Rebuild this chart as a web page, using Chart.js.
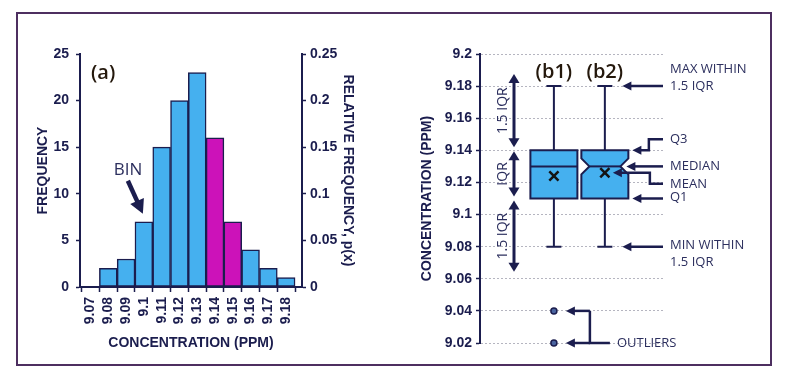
<!DOCTYPE html>
<html>
<head>
<meta charset="utf-8">
<script src="https://cdn.jsdelivr.net/npm/chart.js@4.4.0/dist/chart.umd.min.js"></script>
<style>
  html, body { margin: 0; padding: 0; background: #fff; }
  #page { position: relative; width: 789px; height: 374px; overflow: hidden; background: #fff; }
  #frame { position: absolute; left: 16px; top: 12px; width: 756px; height: 354px; box-sizing: border-box; border: 2px solid #4d2f60; }
  #hist { position: absolute; left: 0; top: 0; }
  #box { position: absolute; left: 395px; top: 0; }
</style>
</head>
<body>
<div id="page">
  <div id="frame"></div>
  <canvas id="hist" width="395" height="374"></canvas>
  <canvas id="box" width="394" height="374"></canvas>
</div>
<script>
// ---- histogram data (a) ----
const binCentres = [9.07, 9.08, 9.09, 9.10, 9.11, 9.12, 9.13, 9.14, 9.15, 9.16, 9.17, 9.18];
const binLabels = ['9.07', '9.08', '9.09', '9.1', '9.11', '9.12', '9.13', '9.14', '9.15', '9.16', '9.17', '9.18'];
const frequency = [0, 2, 3, 7, 15, 20, 23, 16, 7, 4, 2, 1];
const highlightedBins = ['9.14', '9.15'];
const freqTicks = [0, 5, 10, 15, 20, 25];
const relFreqTicks = [0, 0.05, 0.1, 0.15, 0.2, 0.25];

// ---- box plot data (b1, b2) ----
const boxNames = ['(b1)', '(b2)'];
const boxMin = [9.08, 9.08];
const boxQ1 = [9.11, 9.11];
const boxMedian = [9.13, 9.13];
const boxQ3 = [9.14, 9.14];
const boxMax = [9.18, 9.18];
const boxMean = [9.124, 9.126];
const notchLow = [null, 9.125];
const notchHigh = [null, 9.135];
const outliers = [[9.04, 9.02], []];
const concTicks = [9.02, 9.04, 9.06, 9.08, 9.1, 9.12, 9.14, 9.16, 9.18, 9.2];

const NAVY = '#1b1d4e';
const NOTE = '#2c2f5e';
const BLUE = '#45b0ef';
const MAGENTA = '#cc12b9';
const LABEL_DARK = '#24180c';

Chart.defaults.font.family = 'Arial, "Liberation Sans", sans-serif';
Chart.defaults.color = NAVY;

const boldFont = { size: 14, weight: 'bold' };
const fmt = v => String(parseFloat(Number(v).toFixed(2)));

function arrowHead(ctx, x1, y1, x2, y2, len, half) {
    const a = Math.atan2(y2 - y1, x2 - x1);
    ctx.beginPath();
    ctx.moveTo(x2, y2);
    ctx.lineTo(x2 - len * Math.cos(a) + half * Math.sin(a), y2 - len * Math.sin(a) - half * Math.cos(a));
    ctx.lineTo(x2 - len * Math.cos(a) - half * Math.sin(a), y2 - len * Math.sin(a) + half * Math.cos(a));
    ctx.closePath();
    ctx.fill();
}

// polyline that ends in an arrow head at its last point
function arrowPath(ctx, pts, lw, len, half) {
    ctx.save();
    ctx.strokeStyle = NAVY;
    ctx.fillStyle = NAVY;
    ctx.lineWidth = lw;
    ctx.lineJoin = 'miter';
    const n = pts.length;
    const [px, py] = pts[n - 2];
    const [tx, ty] = pts[n - 1];
    const a = Math.atan2(ty - py, tx - px);
    ctx.beginPath();
    ctx.moveTo(pts[0][0], pts[0][1]);
    for (let i = 1; i < n - 1; i++) ctx.lineTo(pts[i][0], pts[i][1]);
    ctx.lineTo(tx - (len - 1) * Math.cos(a), ty - (len - 1) * Math.sin(a));
    ctx.stroke();
    arrowHead(ctx, px, py, tx, ty, len, half);
    ctx.restore();
}

// ---- (a) histogram ----
const binEdges = binCentres.map(c => c - 0.005).concat([binCentres[binCentres.length - 1] + 0.005]);

const histNotes = {
    id: 'histNotes',
    afterDraw(chart) {
        const { ctx, scales: { x, y } } = chart;
        ctx.save();
        ctx.fillStyle = LABEL_DARK;
        ctx.font = '600 20px "Open Sans", sans-serif';
        ctx.textBaseline = 'middle';
        ctx.fillText('(a)', 91, 73);

        ctx.fillStyle = NOTE;
        ctx.font = '17px "Open Sans", sans-serif';
        ctx.textAlign = 'center';
        ctx.fillText('BIN', 128, 170);

        // arrow pointing at the 9.1 bin
        const i = binLabels.indexOf('9.1');
        const tx = x.getPixelForValue(binCentres[i]) - 1;
        const ty = y.getPixelForValue(frequency[i]) - 8;
        arrowPath(ctx, [[tx - 15, ty - 33], [tx, ty]], 4.5, 14, 7.5);
        ctx.restore();
    }
};

new Chart(document.getElementById('hist'), {
    type: 'bar',
    data: {
        datasets: [{
            data: binCentres.map((c, i) => ({ x: c, y: frequency[i] })),
            backgroundColor: binLabels.map(l => highlightedBins.includes(l) ? MAGENTA : BLUE),
            borderColor: NAVY,
            borderWidth: 1.5,
            borderSkipped: false,
            barPercentage: 1,
            categoryPercentage: 1,
            yAxisID: 'y'
        }]
    },
    options: {
        responsive: false,
        animation: false,
        events: [],
        layout: { padding: { top: 54, left: 0, right: 0, bottom: 0 } },
        plugins: { legend: { display: false }, tooltip: { enabled: false } },
        scales: {
            x: {
                type: 'linear', min: 9.0641, max: 9.1889, offset: false,
                afterBuildTicks: s => { s.ticks = binEdges.map(v => ({ value: v })); },
                afterFit: s => { s.height = 87; },
                grid: { drawOnChartArea: false, offset: false, tickLength: 5, tickColor: NAVY, tickWidth: 1.5 },
                border: { color: NAVY, width: 2 },
                ticks: {
                    autoSkip: false, minRotation: 90, maxRotation: 90, padding: 5, labelOffset: 8.9,
                    color: NAVY, font: boldFont,
                    callback: (v, i) => binLabels[i] || ''
                },
                title: { display: true, text: 'CONCENTRATION (PPM)', color: NAVY, font: boldFont, padding: { top: 0, bottom: 22 } }
            },
            y: {
                position: 'left', min: 0, max: 25,
                afterBuildTicks: s => { s.ticks = freqTicks.map(v => ({ value: v })); },
                afterFit: s => { s.width = 80; },
                grid: { drawOnChartArea: false, tickLength: 4, tickColor: NAVY, tickWidth: 1.5 },
                border: { color: NAVY, width: 2 },
                ticks: { padding: 7, color: NAVY, font: boldFont },
                title: { display: true, text: 'FREQUENCY', color: NAVY, font: boldFont, padding: { top: 35, bottom: 0 } }
            },
            y1: {
                position: 'right', min: 0, max: 0.25,
                afterBuildTicks: s => { s.ticks = relFreqTicks.map(v => ({ value: v })); },
                afterFit: s => { s.width = 93; },
                grid: { drawOnChartArea: false, tickLength: 4, tickColor: NAVY, tickWidth: 1.5 },
                border: { color: NAVY, width: 2 },
                ticks: { padding: 4, color: NAVY, font: boldFont, callback: v => fmt(v) },
                title: { display: true, text: 'RELATIVE FREQUENCY, p(x)', color: NAVY, font: boldFont, padding: { top: 39, bottom: 0 } }
            }
        }
    },
    plugins: [histNotes]
});

// ---- (b) box plots ----
const BOX_HALF = 23.5, CAP_HALF = 7.5, NOTCH_DEPTH = 8;

const boxDraw = {
    id: 'boxDraw',
    beforeDatasetsDraw(chart) {
        const { ctx, scales: { x, y } } = chart;
        ctx.save();
        ctx.strokeStyle = NAVY;
        ctx.lineWidth = 2;
        boxNames.forEach((name, i) => {
            const xc = x.getPixelForValue(i + 1);
            const yMax = y.getPixelForValue(boxMax[i]), yMin = y.getPixelForValue(boxMin[i]);
            const yQ1 = y.getPixelForValue(boxQ1[i]), yQ3 = y.getPixelForValue(boxQ3[i]);
            const yMed = y.getPixelForValue(boxMedian[i]);
            // whiskers and caps
            ctx.beginPath();
            ctx.moveTo(xc, yMax); ctx.lineTo(xc, yQ3);
            ctx.moveTo(xc, yQ1); ctx.lineTo(xc, yMin);
            ctx.moveTo(xc - CAP_HALF, yMax); ctx.lineTo(xc + CAP_HALF, yMax);
            ctx.moveTo(xc - CAP_HALF, yMin); ctx.lineTo(xc + CAP_HALF, yMin);
            ctx.stroke();
            // box, notched when notch limits are given
            const l = xc - BOX_HALF, r = xc + BOX_HALF;
            const notched = notchLow[i] != null;
            ctx.beginPath();
            ctx.moveTo(l, yQ1);
            if (notched) {
                const yNL = y.getPixelForValue(notchLow[i]), yNH = y.getPixelForValue(notchHigh[i]);
                ctx.lineTo(l, yNL); ctx.lineTo(l + NOTCH_DEPTH, yMed); ctx.lineTo(l, yNH);
                ctx.lineTo(l, yQ3); ctx.lineTo(r, yQ3);
                ctx.lineTo(r, yNH); ctx.lineTo(r - NOTCH_DEPTH, yMed); ctx.lineTo(r, yNL);
            } else {
                ctx.lineTo(l, yQ3); ctx.lineTo(r, yQ3);
            }
            ctx.lineTo(r, yQ1);
            ctx.closePath();
            ctx.fillStyle = BLUE;
            ctx.fill();
            ctx.stroke();
            const inset = notched ? NOTCH_DEPTH : 0;
            ctx.beginPath();
            ctx.moveTo(l + inset, yMed); ctx.lineTo(r - inset, yMed);
            ctx.stroke();
        });
        ctx.restore();
    },
    afterDraw(chart) {
        const { ctx, chartArea: ca, scales: { x, y } } = chart;
        const yp = v => y.getPixelForValue(v);
        ctx.save();

        // box names
        ctx.fillStyle = LABEL_DARK;
        ctx.font = '600 20px "Open Sans", sans-serif';
        ctx.textAlign = 'center';
        ctx.textBaseline = 'middle';
        boxNames.forEach((n, i) => ctx.fillText(n, x.getPixelForValue(i + 1), 72));

        // IQR brackets on the left, from box (b1)
        const iqr = boxQ3[0] - boxQ1[0];
        const ax = ca.left + 34;
        const spans = [
            [yp(boxQ3[0] + 1.5 * iqr) - 4, yp(boxQ3[0]) - 3, '1.5 IQR'],
            [yp(boxQ3[0]) + 1, yp(boxQ1[0]) - 2, 'IQR'],
            [yp(boxQ1[0]) + 2, yp(boxQ1[0] - 1.5 * iqr) + 1, '1.5 IQR']
        ];
        ctx.fillStyle = NAVY;
        ctx.strokeStyle = NAVY;
        ctx.lineWidth = 3;
        spans.forEach(([top, bot, txt]) => {
            ctx.beginPath();
            ctx.moveTo(ax, top + 7); ctx.lineTo(ax, bot - 7);
            ctx.stroke();
            arrowHead(ctx, ax, bot, ax, top, 9, 5.5);
            arrowHead(ctx, ax, top, ax, bot, 9, 5.5);
            ctx.save();
            ctx.translate(ax - 11, (top + bot) / 2);
            ctx.rotate(-Math.PI / 2);
            ctx.fillStyle = NOTE;
            ctx.font = '14px "Open Sans", sans-serif';
            ctx.textAlign = 'center';
            ctx.textBaseline = 'middle';
            ctx.fillText(txt, 0, 0);
            ctx.restore();
        });

        // notes on the right, pointing at box (b2)
        const b = 1;
        const xc = x.getPixelForValue(b + 1);
        const tail = ca.right - 2;
        const tx = ca.right + 5;
        const elbow = xc + 44;
        const write = (txt, yy) => {
            ctx.fillStyle = NOTE;
            ctx.font = '13px "Open Sans", sans-serif';
            ctx.textAlign = 'left';
            ctx.textBaseline = 'middle';
            ctx.fillText(txt, tx, yy);
        };
        const yMax = yp(boxMax[b]), yMin = yp(boxMin[b]);
        arrowPath(ctx, [[tail, yMax], [xc + CAP_HALF + 10, yMax]], 2.5, 9, 4.5);
        write('MAX WITHIN', yMax - 17);
        write('1.5 IQR', yMax);

        const yQ3 = yp(boxQ3[b]);
        arrowPath(ctx, [[tail, yQ3 - 11], [elbow, yQ3 - 11], [elbow, yQ3], [xc + BOX_HALF + 4, yQ3]], 2.5, 9, 4.5);
        write('Q3', yQ3 - 11);

        const yMed = yp(boxMedian[b]);
        arrowPath(ctx, [[tail, yMed], [xc + BOX_HALF - NOTCH_DEPTH + 6, yMed]], 2.5, 9, 4.5);
        write('MEDIAN', yMed);

        const yMean = yp(boxMean[b]);
        arrowPath(ctx, [[tail, yMean + 11], [elbow + 1, yMean + 11], [elbow + 1, yMean], [xc + 8, yMean]], 2.5, 9, 4.5);
        write('MEAN', yMean + 11);

        const yQ1 = yp(boxQ1[b]);
        arrowPath(ctx, [[tail, yQ1], [xc + BOX_HALF + 4, yQ1]], 2.5, 9, 4.5);
        write('Q1', yQ1 - 1);

        arrowPath(ctx, [[tail, yMin], [xc + CAP_HALF + 10, yMin]], 2.5, 9, 4.5);
        write('MIN WITHIN', yMin - 1);
        write('1.5 IQR', yMin + 16);

        // outlier bracket for box (b1)
        const ox = x.getPixelForValue(1);
        const bx = ox + 36;
        const ys = outliers[0].map(yp);
        const yLow = Math.max(...ys);
        ctx.strokeStyle = NAVY;
        ctx.lineWidth = 2.5;
        ctx.beginPath();
        ctx.moveTo(bx, Math.min(...ys)); ctx.lineTo(bx, yLow); ctx.lineTo(bx + 20, yLow);
        ctx.stroke();
        ys.forEach(yy => arrowPath(ctx, [[bx, yy], [ox + 12, yy]], 2.5, 9, 4.5));
        ctx.fillStyle = NOTE;
        ctx.font = '13px "Open Sans", sans-serif';
        ctx.textAlign = 'left';
        ctx.textBaseline = 'middle';
        ctx.fillText('OUTLIERS', bx + 27, yLow);
        ctx.restore();
    }
};

new Chart(document.getElementById('box'), {
    type: 'scatter',
    data: {
        datasets: [
            {
                label: 'mean',
                data: boxMean.map((m, i) => ({ x: i + 1, y: m })),
                pointStyle: 'crossRot', pointRadius: 6.5, borderWidth: 2.5,
                borderColor: '#141414', backgroundColor: '#141414'
            },
            {
                label: 'outliers',
                data: outliers.flatMap((list, i) => list.map(v => ({ x: i + 1, y: v }))),
                pointStyle: 'circle', pointRadius: 3, borderWidth: 1.5,
                borderColor: NAVY, backgroundColor: '#4a64a0',
                clip: false
            }
        ]
    },
    options: {
        responsive: false,
        animation: false,
        events: [],
        layout: { padding: { top: 54, left: 0, right: 124, bottom: 31 } },
        plugins: { legend: { display: false }, tooltip: { enabled: false } },
        scales: {
            x: { type: 'linear', min: -0.45, max: 3.18, display: false },
            y: {
                position: 'left', min: 9.02, max: 9.2,
                afterBuildTicks: s => { s.ticks = concTicks.map(v => ({ value: v })); },
                afterFit: s => { s.width = 85; },
                grid: { color: 'rgba(120,120,140,0.55)', lineWidth: 1, tickLength: 4, tickColor: NAVY, tickWidth: 1.5 },
                border: { color: NAVY, width: 2, dash: [2, 2] },
                ticks: { padding: 4, color: NAVY, font: boldFont, callback: v => fmt(v) },
                title: { display: true, text: 'CONCENTRATION (PPM)', color: NAVY, font: boldFont, padding: { top: 24, bottom: 0 } }
            }
        }
    },
    plugins: [boxDraw]
});
</script>
</body>
</html>
